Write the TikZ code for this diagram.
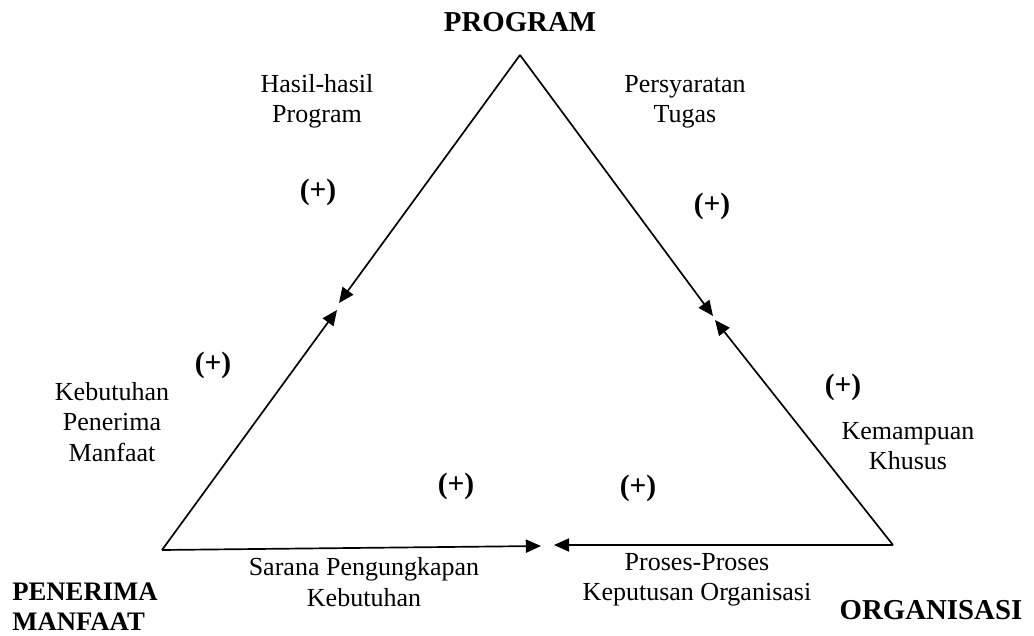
\documentclass[tikz,border=0pt]{standalone}
\usepackage{fontspec}
\setmainfont{Liberation Serif}
\usetikzlibrary{arrows.meta, positioning}

\begin{document}
\begin{tikzpicture}[x=0.025cm, y=-0.025cm]
    \tikzstyle{teks} = [align=center, font=\fontsize{18.5}{21.5}\selectfont]
    \tikzstyle{sudut} = [align=center, font=\bfseries\fontsize{20.5}{22}\selectfont]
    \tikzstyle{tanda} = [font=\bfseries\fontsize{21}{22}\selectfont]
    \tikzstyle{line} = [draw, line width=1.2pt, -{Triangle[length=3.8mm, width=3.3mm]}]

    \useasboundingbox (0,0) rectangle (1034,636);

    % titik sudut segitiga
    \coordinate (atas) at (520,55);
    \coordinate (kiri) at (162,550);
    \coordinate (kanan) at (893,545);
    \coordinate (kiriA) at (339,303);
    \coordinate (kiriB) at (337,310);
    \coordinate (kananA) at (713,316);
    \coordinate (kananB) at (715,320);
    \coordinate (bawahA) at (541,546);
    \coordinate (bawahB) at (554,545);

    % label sudut
    \node[sudut] (program) at (520,22) {PROGRAM};
    \node[sudut, align=left, anchor=west, inner sep=0pt,
          font=\bfseries\fontsize{19}{21.3}\selectfont] (penerima) at (12,607) {PENERIMA\\MANFAAT};
    \node[sudut] (organisasi) at (931,610) {ORGANISASI};

    % label sisi
    \node[teks] (hasil) at (317,101) {Hasil-hasil\\Program};
    \node[teks] (syarat) at (685,102) {Persyaratan\\Tugas};
    \node[teks] (butuh) at (112,422) {Kebutuhan\\Penerima\\Manfaat};
    \node[teks] (mampu) at (908,446) {Kemampuan\\Khusus};
    \node[teks] (sarana) at (364,582) {Sarana Pengungkapan\\Kebutuhan};
    \node[teks] (proses) at (697,580) {Proses-Proses\\Keputusan Organisasi};

    % tanda (+)
    \node[tanda] (p1) at (318,192) {(+)};
    \node[tanda] (p2) at (712,206) {(+)};
    \node[tanda] (p3) at (213,365) {(+)};
    \node[tanda] (p4) at (843,387) {(+)};
    \node[tanda] (p5) at (456,486) {(+)};
    \node[tanda] (p6) at (638,488) {(+)};

    % panah
    \path [line] (atas) -- (kiriA);
    \path [line] (kiri) -- (kiriB);
    \path [line] (atas) -- (kananA);
    \path [line] (kanan) -- (kananB);
    \path [line] (kiri) -- (bawahA);
    \path [line] (kanan) -- (bawahB);
\end{tikzpicture}
\end{document}
